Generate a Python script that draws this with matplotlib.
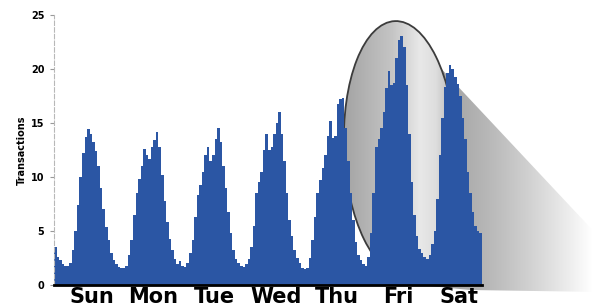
import numpy as np
import matplotlib
matplotlib.use("Agg")
import matplotlib.pyplot as plt
from matplotlib.patches import Ellipse, Polygon

#************************************
# Data: hourly transactions, Sun 0h .. Sat 23h
#************************************
days = ["Sun", "Mon", "Tue", "Wed", "Thu", "Fri", "Sat"]

sun = [3.5, 2.6, 2.3, 1.9, 1.8, 1.8, 2.0, 3.2, 5.0, 7.4, 10.0, 12.2,
       13.7, 14.4, 14.0, 13.2, 12.4, 11.0, 9.0, 7.0, 5.4, 4.2, 3.0, 2.3]
mon = [1.9, 1.7, 1.6, 1.6, 1.8, 2.8, 4.2, 6.5, 8.5, 9.8, 11.0, 12.6,
       12.0, 11.7, 12.8, 13.4, 14.2, 12.8, 10.2, 7.8, 5.8, 4.3, 3.2, 2.4]
tue = [1.9, 2.2, 1.8, 1.7, 2.0, 3.0, 4.2, 6.3, 8.3, 9.3, 10.5, 12.0,
       12.8, 11.5, 12.0, 13.5, 14.5, 13.2, 11.0, 9.0, 6.8, 4.8, 3.2, 2.4]
wed = [2.0, 1.8, 1.7, 1.9, 2.4, 3.5, 5.5, 8.5, 9.5, 10.5, 12.5, 14.0,
       12.5, 12.8, 14.0, 15.0, 16.0, 14.0, 11.5, 8.5, 6.0, 4.5, 3.2, 2.5]
thu = [2.0, 1.6, 1.5, 1.6, 2.5, 4.2, 6.3, 8.5, 9.7, 10.8, 12.0, 13.8,
       15.2, 13.6, 13.8, 16.8, 17.2, 17.3, 14.5, 11.5, 8.5, 6.0, 4.0, 2.8]
fri = [2.3, 1.9, 1.8, 2.6, 4.8, 8.5, 12.8, 13.5, 14.5, 16.0, 18.2, 19.8,
       18.5, 18.7, 21.0, 22.7, 23.1, 22.0, 18.5, 14.0, 9.5, 6.5, 4.5, 3.3]
sat = [3.0, 2.6, 2.4, 2.8, 3.8, 5.0, 8.0, 12.0, 15.5, 18.3, 19.6, 20.4,
       20.0, 19.3, 18.6, 17.5, 15.5, 13.5, 10.5, 8.5, 6.8, 5.5, 5.0, 4.8]

yticks = [0, 5, 10, 15, 20, 25]

week = np.array(sun + mon + tue + wed + thu + fri + sat)
nbins = len(week)

W, H = 592, 307
fig = plt.figure(figsize=(W / 100, H / 100), dpi=100)
fig.patch.set_facecolor("white")

#************************************
# Background: magnifier ellipse + fading cone (pixel coords)
#************************************
bg = fig.add_axes([0, 0, 1, 1])
bg.axis("off")

xx, yy = np.meshgrid(np.arange(W) + 0.5, np.arange(H) + 0.5)

t = np.clip((xx - 440) / 152.0, 0, 1)
g_cone = 0.64 + 0.36 * t ** 1.3
img_cone = np.dstack([g_cone, g_cone, g_cone])
cone = Polygon([(405, 30), (600, 238), (600, 292), (470, 290), (430, 286)],
               closed=True, facecolor="none", edgecolor="none")
bg.add_patch(cone)
im1 = bg.imshow(img_cone, extent=(0, W, H, 0), aspect="auto",
                interpolation="bilinear", zorder=1)
im1.set_clip_path(cone)

g_ell = np.interp(xx, [344, 362, 392, 420, 436, 458],
                  [0.64, 0.69, 0.77, 0.91, 0.87, 0.66])
img_ell = np.dstack([g_ell, g_ell, g_ell])
ell_clip = Ellipse((400, 148), width=112, height=254, angle=-2.3,
                   facecolor="none", edgecolor="none")
bg.add_patch(ell_clip)
im2 = bg.imshow(img_ell, extent=(0, W, H, 0), aspect="auto",
                interpolation="bilinear", zorder=2)
im2.set_clip_path(ell_clip)
bg.add_patch(Ellipse((400, 148), width=112, height=254, angle=-2.3,
                     facecolor="none", edgecolor="#3c3c3c", lw=1.3, zorder=3))
bg.set_xlim(0, W)
bg.set_ylim(H, 0)

#************************************
# Histogram
#************************************
ax = fig.add_axes([54 / W, 22 / H, 428 / W, 270 / H])
ax.set_facecolor("none")
edges = np.arange(nbins + 1) - 0.5
ax.stairs(week, edges, fill=True, color="#2b56a4", lw=0)

ax.set_xlim(-0.5, nbins - 0.5)
ax.set_ylim(0, 25)
ax.set_yticks(yticks)
ax.set_yticklabels([str(v) for v in yticks], fontsize=7, fontweight="bold")
ax.tick_params(axis="y", length=3, width=0.8, color="#999999", pad=4)

ax.set_xticks([d * 24 + 14.5 for d in range(len(days))])
ax.set_xticklabels(days, fontsize=15, fontweight="bold")
ax.tick_params(axis="x", length=0, pad=1.5)

ax.set_ylabel("Transactions", fontsize=7, fontweight="bold", labelpad=3)

ax.spines["top"].set_visible(False)
ax.spines["right"].set_visible(False)
ax.spines["left"].set_color("#b8b8b8")
ax.spines["left"].set_linestyle((0, (4, 2)))
ax.spines["left"].set_linewidth(0.8)
ax.spines["bottom"].set_color("black")
ax.spines["bottom"].set_linewidth(2)

fig.savefig("out.png", dpi=100)
